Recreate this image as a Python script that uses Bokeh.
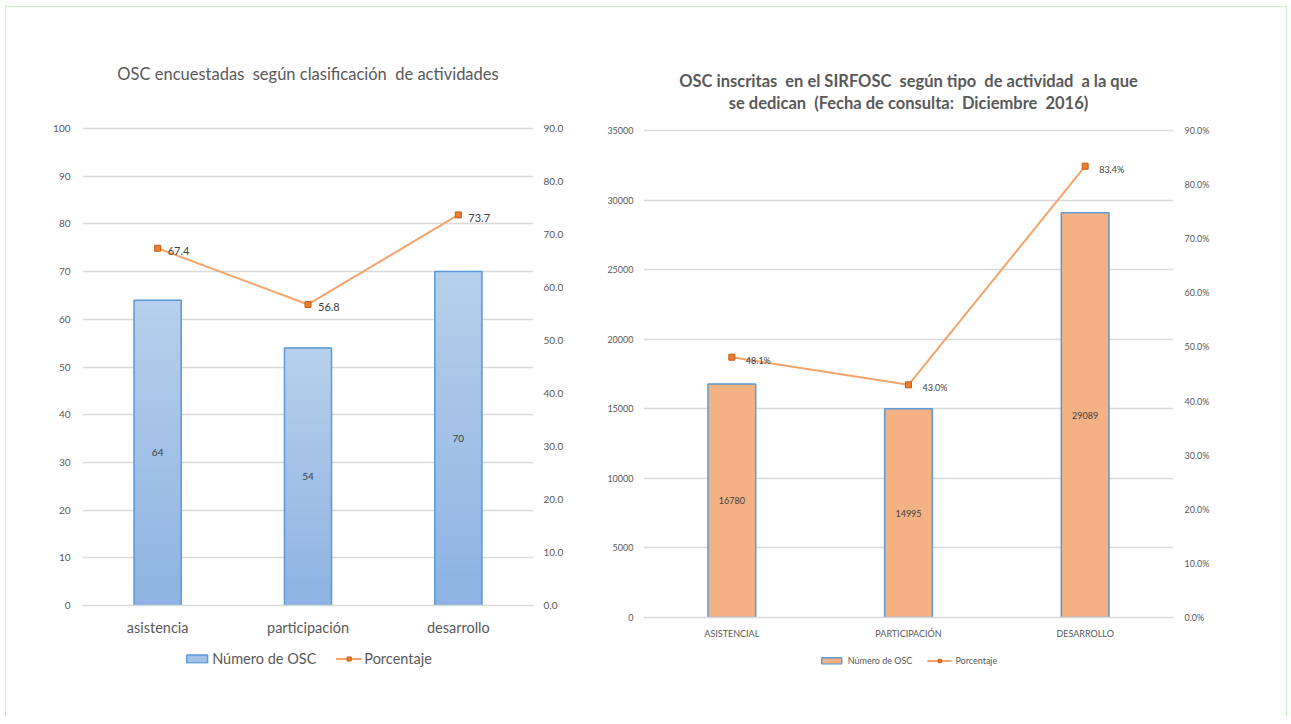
from bokeh.plotting import figure
from bokeh.models import (Range1d, FactorRange, LinearAxis, FixedTicker, PrintfTickFormatter,
                          NumeralTickFormatter, Legend, LegendItem, LabelSet, ColumnDataSource,
                          Spacer)
from bokeh.layouts import row, column
from bokeh.core.properties import value
from bokeh.embed import file_html
from bokeh.resources import INLINE

FONT = "Lato"
TEXT = "#595959"
GRID = "#d9d9d9"
ORANGE_LINE = "#f4a46a"
ORANGE_MARK = "#ed7d31"
BLUE_EDGE = "#5b9bd5"
BLUE_FILL = "#a3c1e7"
PEACH_FILL = "#f4b183"

# ---- OSC encuestadas según clasificación de actividades
cats_enc = ["asistencia", "participación", "desarrollo"]
num_enc = [64, 54, 70]
pct_enc = [67.4, 56.8, 73.7]
ticks_enc_left = [0, 10, 20, 30, 40, 50, 60, 70, 80, 90, 100]
ticks_enc_right = [0, 10, 20, 30, 40, 50, 60, 70, 80, 90]
title_enc = ["OSC encuestadas\u00a0 según clasificación\u00a0 de actividades"]

# ---- OSC inscritas en el SIRFOSC según tipo de actividad
cats_sir = ["ASISTENCIAL", "PARTICIPACIÓN", "DESARROLLO"]
num_sir = [16780, 14995, 29089]
pct_sir = [48.1, 43.0, 83.4]
ticks_sir_left = [0, 5000, 10000, 15000, 20000, 25000, 30000, 35000]
ticks_sir_right = [0, 10, 20, 30, 40, 50, 60, 70, 80, 90]
title_sir = ["OSC inscritas\u00a0 en el SIRFOSC\u00a0 según tipo\u00a0 de actividad\u00a0 a la que",
             "se dedican\u00a0 (Fecha de consulta:\u00a0 Diciembre\u00a0 2016)"]

series_labels = ["Número de OSC", "Porcentaje"]


def hex_to_rgb(h):
    h = h.lstrip("#")
    return tuple(int(h[i:i + 2], 16) for i in (0, 2, 4))


def blend(c1, c2, t):
    a, b = hex_to_rgb(c1), hex_to_rgb(c2)
    return "#%02x%02x%02x" % tuple(round(a[i] + (b[i] - a[i]) * t) for i in range(3))


def gradient_slices(cats, vals, n, bottom_color, top_color):
    xs, bottoms, tops, colors = [], [], [], []
    for c, v in zip(cats, vals):
        for k in range(n):
            xs.append(c)
            bottoms.append(v * k / n)
            tops.append(v * (k + 1) / n)
            colors.append(blend(bottom_color, top_color, (k + 0.5) / n))
    return ColumnDataSource(dict(x=xs, bottom=bottoms, top=tops, color=colors))


def base_figure(cats, ytop, y2top, fw, fh, left, right, bottom):
    # the frame reaches up to the top of the canvas so the title sits inside it
    p = figure(x_range=FactorRange(*cats, range_padding=0), y_range=Range1d(0, ytop),
               frame_width=fw, frame_height=fh, title=None,
               min_border_left=left, min_border_right=right,
               min_border_top=0, min_border_bottom=bottom,
               output_backend="svg", toolbar_location=None)
    p.extra_y_ranges = {"pct": Range1d(0, y2top)}
    p.outline_line_color = None
    p.background_fill_color = "white"
    p.border_fill_color = "white"
    p.xgrid.grid_line_color = None
    p.ygrid.grid_line_color = GRID
    p.ygrid.grid_line_width = 1.5
    return p


def style_axis(ax, size, standoff):
    ax.axis_line_color = None
    ax.major_tick_line_color = None
    ax.minor_tick_line_color = None
    ax.major_tick_out = 0
    ax.major_tick_in = 0
    ax.minor_tick_out = 0
    ax.major_label_text_color = TEXT
    ax.major_label_text_font = FONT
    ax.major_label_text_font_size = size
    ax.major_label_standoff = standoff


def legend_strip(cats, counts, pcts, fw, fh, left, right, bar_fill, bar_width,
                 font_size, glyph_w, glyph_h, spacing, standoff):
    # a thin canvas under each chart that only carries the series key; the series
    # renderers here are hidden, only their key swatches are drawn
    q = figure(x_range=FactorRange(*cats, range_padding=0), y_range=Range1d(-2, -1),
               frame_width=fw, frame_height=fh, title=None,
               min_border_left=left, min_border_right=right,
               min_border_top=0, min_border_bottom=0, x_axis_type=None, y_axis_type=None,
               output_backend="svg", toolbar_location=None)
    q.outline_line_color = None
    q.xgrid.grid_line_color = None
    q.ygrid.grid_line_color = None
    kb = q.vbar(x=cats, top=counts, width=bar_width, fill_color=bar_fill,
                line_color=BLUE_EDGE, line_width=1.5, visible=False)
    kl = q.line(x=cats, y=pcts, line_color=ORANGE_LINE, line_width=2, visible=False)
    km = q.scatter(x=cats, y=pcts, marker="square", size=5, fill_color=ORANGE_MARK,
                   line_color="#c55a11", visible=False)
    lg = Legend(items=[LegendItem(label=series_labels[0], renderers=[kb]),
                       LegendItem(label=series_labels[1], renderers=[kl, km])],
                orientation="horizontal", location="center", border_line_color=None,
                background_fill_alpha=0, padding=0, margin=0, spacing=spacing,
                glyph_width=glyph_w, glyph_height=glyph_h, label_standoff=standoff,
                click_policy="none", inactive_fill_alpha=0,
                label_text_font=FONT, label_text_font_size=font_size, label_text_color=TEXT)
    q.add_layout(lg, "center")
    return q


# ================= Left chart =================
# frame: 598 px tall, 100 units = 477 px
ENC_TOP = 598 / 4.77
p1 = base_figure(cats_enc, ENC_TOP, ENC_TOP * 0.9, 451, 598, 76, 67, 40)
p1.yaxis.ticker = FixedTicker(ticks=ticks_enc_left)
style_axis(p1.yaxis[0], "10px", 12)
ax_r1 = LinearAxis(y_range_name="pct", ticker=FixedTicker(ticks=ticks_enc_right),
                   formatter=NumeralTickFormatter(format="0.0"))
style_axis(ax_r1, "10px", 10)
p1.add_layout(ax_r1, "right")
style_axis(p1.xaxis[0], "14.5px", 13)
p1.xaxis.axis_line_color = GRID
p1.xaxis.axis_line_width = 1.5

src_g1 = gradient_slices(cats_enc, num_enc, 40, "#8db3e2", "#b7cfeb")
p1.vbar(x="x", bottom="bottom", top="top", width=0.313, fill_color="color",
        line_color="color", line_width=1, source=src_g1)
p1.vbar(x=cats_enc, top=num_enc, width=0.313, fill_alpha=0,
        line_color=BLUE_EDGE, line_width=1.5)
p1.line(x=cats_enc, y=pct_enc, y_range_name="pct", line_color=ORANGE_LINE, line_width=2)
p1.scatter(x=cats_enc, y=pct_enc, y_range_name="pct", marker="square", size=6,
           fill_color=ORANGE_MARK, line_color="#c55a11")

bar_lab1 = ColumnDataSource(dict(x=cats_enc, y=[v / 2 for v in num_enc], t=[str(v) for v in num_enc]))
p1.add_layout(LabelSet(x="x", y="y", text="t", source=bar_lab1, text_align="center",
                       text_baseline="middle", text_font=value(FONT), text_font_size="10px",
                       text_color="#404040"))
pct_lab1 = ColumnDataSource(dict(x=cats_enc, y=pct_enc, t=["%.1f" % v for v in pct_enc]))
p1.add_layout(LabelSet(x="x", y="y", text="t", source=pct_lab1, y_range_name="pct",
                       x_offset=10, y_offset=-3, text_align="left", text_baseline="middle",
                       text_font=value(FONT), text_font_size="11px", text_color="#404040"))

ttl1 = ColumnDataSource(dict(x=[cats_enc[1]], y=[111.5], t=title_enc))
p1.add_layout(LabelSet(x="x", y="y", text="t", source=ttl1, text_align="center",
                       text_baseline="middle", text_font=value(FONT), text_font_size="16.5px",
                       text_color=TEXT))

k1 = legend_strip(cats_enc, num_enc, pct_enc, 451, 26, 76, 67, BLUE_FILL, 0.313,
                  "14.5px", 26, 10, 19, 3)

# ================= Right chart =================
# frame: 610 px tall, 35000 units = 487 px
SIR_TOP = 610 * 35000 / 487
p2 = base_figure(cats_sir, SIR_TOP, SIR_TOP * 90 / 35000, 530, 610, 43, 113, 30)
p2.yaxis.ticker = FixedTicker(ticks=ticks_sir_left)
style_axis(p2.yaxis[0], "9px", 10)
ax_r2 = LinearAxis(y_range_name="pct", ticker=FixedTicker(ticks=ticks_sir_right),
                   formatter=PrintfTickFormatter(format="%.1f%%"))
style_axis(ax_r2, "9px", 11)
p2.add_layout(ax_r2, "right")
style_axis(p2.xaxis[0], "9px", 10)
p2.xaxis.axis_line_color = GRID
p2.xaxis.axis_line_width = 1.5

p2.vbar(x=cats_sir, top=num_sir, width=0.27, fill_color=PEACH_FILL,
        line_color=BLUE_EDGE, line_width=1.5)
p2.line(x=cats_sir, y=pct_sir, y_range_name="pct", line_color=ORANGE_LINE, line_width=2)
p2.scatter(x=cats_sir, y=pct_sir, y_range_name="pct", marker="square", size=6,
           fill_color=ORANGE_MARK, line_color="#c55a11")

bar_lab2 = ColumnDataSource(dict(x=cats_sir, y=[v / 2 for v in num_sir], t=[str(v) for v in num_sir]))
p2.add_layout(LabelSet(x="x", y="y", text="t", source=bar_lab2, text_align="center",
                       text_baseline="middle", text_font=value(FONT), text_font_size="9px",
                       text_color="#404040"))
pct_lab2 = ColumnDataSource(dict(x=cats_sir, y=pct_sir, t=["%.1f%%" % v for v in pct_sir]))
p2.add_layout(LabelSet(x="x", y="y", text="t", source=pct_lab2, y_range_name="pct",
                       x_offset=14, y_offset=-3, text_align="left", text_baseline="middle",
                       text_font=value(FONT), text_font_size="9px", text_color="#404040"))

ttl2 = ColumnDataSource(dict(x=[cats_sir[1]] * 2, y=[38522, 36941], t=title_sir))
p2.add_layout(LabelSet(x="x", y="y", text="t", source=ttl2, text_align="center",
                       text_baseline="middle", text_font=value(FONT), text_font_size="16.5px",
                       text_font_style="bold", text_color=TEXT))

k2 = legend_strip(cats_sir, num_sir, pct_sir, 530, 26, 43, 113, PEACH_FILL, 0.27,
                  "9px", 25, 8, 14, 4)

layout = column(row(column(p1, k1), column(p2, k2)), Spacer(width=1280, height=43),
                styles={"border-top": "1px solid #c6f2c6",
                        "border-left": "1px solid #c6f2c6",
                        "border-right": "1px solid #c6f2c6",
                        "margin-left": "5px", "margin-top": "6px"})

open("out.html", "w").write(file_html(layout, INLINE))
